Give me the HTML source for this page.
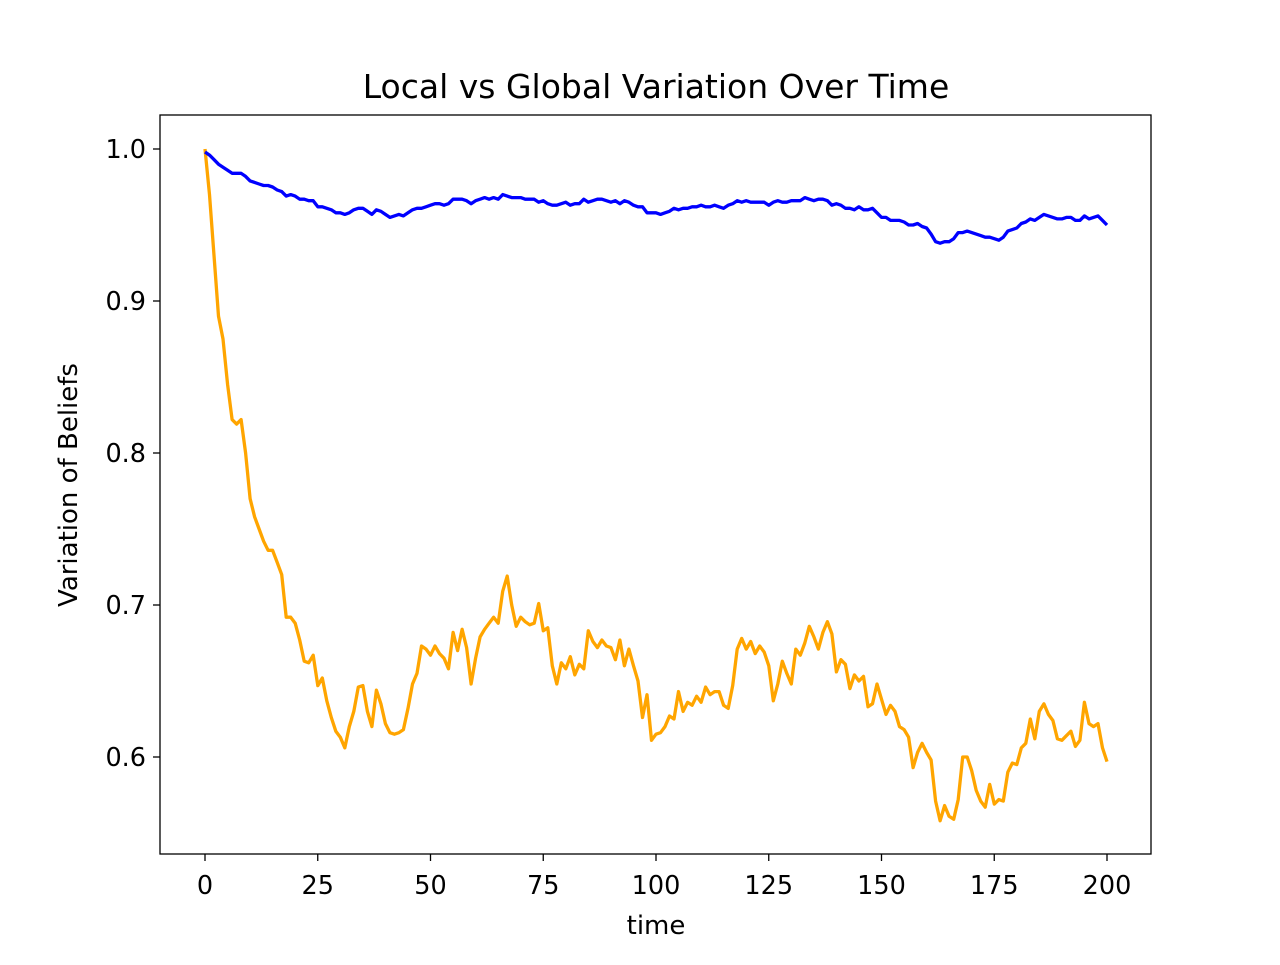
<!DOCTYPE html>
<html><head><meta charset="utf-8"><style>
body{margin:0;background:#fff}
svg text{font-family:"DejaVu Sans","Liberation Sans",sans-serif;fill:#000}
</style></head><body>
<svg id="chart" width="1280" height="960" viewBox="0 0 1280 960" xmlns="http://www.w3.org/2000/svg">
<rect x="0" y="0" width="1280" height="960" fill="#fff"/>
<text x="656" y="98" font-size="33" text-anchor="middle">Local vs Global Variation Over Time</text>
<text x="656" y="934" font-size="26" text-anchor="middle">time</text>
<text x="0" y="0" font-size="26" text-anchor="middle" transform="translate(77,485) rotate(-90)">Variation of Beliefs</text>
<g id="ticks"></g>
<g id="series"></g>
<rect x="160" y="115" width="991" height="739" fill="none" stroke="#000" stroke-width="1.3"/>
</svg>
<script>
const xTicks=[0,25,50,75,100,125,150,175,200];
const yTicks=[0.6,0.7,0.8,0.9,1.0];
const yTickLabels=["0.6","0.7","0.8","0.9","1.0"];
const globalValues=[1.0,0.97,0.93,0.89,0.875,0.845,0.822,0.819,0.822,0.80,0.77,0.758,0.75,0.742,0.736,0.736,0.728,0.72,0.692,0.692,0.688,0.677,0.663,0.662,0.667,0.647,0.652,0.637,0.626,0.617,0.613,0.606,0.62,0.63,0.646,0.647,0.63,0.62,0.644,0.635,0.622,0.616,0.615,0.616,0.618,0.632,0.648,0.655,0.673,0.671,0.667,0.673,0.668,0.665,0.658,0.682,0.670,0.684,0.672,0.648,0.665,0.679,0.684,0.688,0.692,0.688,0.709,0.719,0.70,0.686,0.692,0.689,0.687,0.688,0.701,0.683,0.685,0.66,0.648,0.662,0.658,0.666,0.654,0.661,0.658,0.683,0.676,0.672,0.677,0.673,0.672,0.664,0.677,0.66,0.671,0.66,0.65,0.626,0.641,0.611,0.615,0.616,0.62,0.627,0.625,0.643,0.63,0.636,0.634,0.64,0.636,0.646,0.641,0.643,0.643,0.634,0.632,0.647,0.671,0.678,0.671,0.676,0.668,0.673,0.669,0.66,0.637,0.648,0.663,0.655,0.648,0.671,0.667,0.675,0.686,0.679,0.671,0.682,0.689,0.681,0.656,0.664,0.661,0.645,0.654,0.65,0.653,0.633,0.635,0.648,0.638,0.628,0.634,0.630,0.62,0.618,0.613,0.593,0.603,0.609,0.603,0.598,0.571,0.558,0.568,0.561,0.559,0.572,0.600,0.6,0.591,0.578,0.571,0.567,0.582,0.569,0.572,0.571,0.59,0.596,0.595,0.606,0.609,0.625,0.612,0.63,0.635,0.628,0.624,0.612,0.611,0.614,0.617,0.607,0.611,0.636,0.622,0.620,0.622,0.606,0.597];
const localValues=[0.998,0.996,0.993,0.990,0.988,0.986,0.984,0.984,0.984,0.982,0.979,0.978,0.977,0.976,0.976,0.975,0.973,0.972,0.969,0.970,0.969,0.967,0.967,0.966,0.966,0.962,0.962,0.961,0.960,0.958,0.958,0.957,0.958,0.960,0.961,0.961,0.959,0.957,0.960,0.959,0.957,0.955,0.956,0.957,0.956,0.958,0.960,0.961,0.961,0.962,0.963,0.964,0.964,0.963,0.964,0.967,0.967,0.967,0.966,0.964,0.966,0.967,0.968,0.967,0.968,0.967,0.970,0.969,0.968,0.968,0.968,0.967,0.967,0.967,0.965,0.966,0.964,0.963,0.963,0.964,0.965,0.963,0.964,0.964,0.967,0.965,0.966,0.967,0.967,0.966,0.965,0.966,0.964,0.966,0.965,0.963,0.962,0.962,0.958,0.958,0.958,0.957,0.958,0.959,0.961,0.960,0.961,0.961,0.962,0.962,0.963,0.962,0.962,0.963,0.962,0.961,0.963,0.964,0.966,0.965,0.966,0.965,0.965,0.965,0.965,0.963,0.965,0.966,0.965,0.965,0.966,0.966,0.966,0.968,0.967,0.966,0.967,0.967,0.966,0.963,0.964,0.963,0.961,0.961,0.960,0.962,0.960,0.960,0.961,0.958,0.955,0.955,0.953,0.953,0.953,0.952,0.950,0.950,0.951,0.949,0.948,0.944,0.939,0.938,0.939,0.939,0.941,0.945,0.945,0.946,0.945,0.944,0.943,0.942,0.942,0.941,0.940,0.942,0.946,0.947,0.948,0.951,0.952,0.954,0.953,0.955,0.957,0.956,0.955,0.954,0.954,0.955,0.955,0.953,0.953,0.956,0.954,0.955,0.956,0.953,0.950];
const NS="http://www.w3.org/2000/svg";
function xs(v){return 205+(v/200)*902;}
function ys(v){return 149+(1.0-v)*1520;}
const tg=document.getElementById('ticks');
xTicks.forEach(t=>{
  const l=document.createElementNS(NS,'line');
  
  
  l.setAttribute('x1',xs(t));l.setAttribute('x2',xs(t));l.setAttribute('y1',854);l.setAttribute('y2',861);l.setAttribute('stroke','#000');l.setAttribute('stroke-width','1.3');
  tg.appendChild(l);
  const tx=document.createElementNS(NS,'text');
  
  
  tx.setAttribute('x',xs(t));tx.setAttribute('y',894);tx.setAttribute('font-size','25.5');tx.setAttribute('text-anchor','middle');
  tx.textContent=String(t);tg.appendChild(tx);
});
yTicks.forEach((t,i)=>{
  const l=document.createElementNS(NS,'line');
  
  
  l.setAttribute('x1',153);l.setAttribute('x2',160);l.setAttribute('y1',ys(t));l.setAttribute('y2',ys(t));l.setAttribute('stroke','#000');l.setAttribute('stroke-width','1.3');
  tg.appendChild(l);
  const tx=document.createElementNS(NS,'text');
  
  
  tx.setAttribute('x',146);tx.setAttribute('y',ys(t)+9);tx.setAttribute('font-size','25.5');tx.setAttribute('text-anchor','end');
  tx.textContent=yTickLabels[i];tg.appendChild(tx);
});
const sg=document.getElementById('series');
function draw(vals,color,name){
  const p=document.createElementNS(NS,'polyline');
  
  
  p.setAttribute('points',vals.map((v,i)=>xs(i).toFixed(1)+','+ys(v).toFixed(1)).join(' '));
  p.setAttribute('fill','none');p.setAttribute('stroke',color);p.setAttribute('stroke-width','3.3');p.setAttribute('stroke-linejoin','round');
  sg.appendChild(p);
}
draw(globalValues,'#ffa500','global-variation-line');
draw(localValues,'#0000ff','local-variation-line');
</script>
</body></html>
